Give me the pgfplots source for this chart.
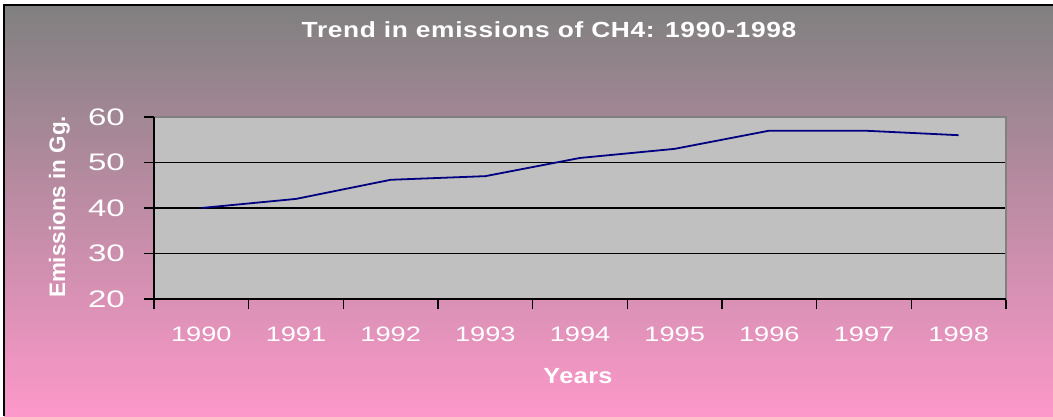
\documentclass[border=0pt]{standalone}
\usepackage{fontspec}
\setmainfont{Liberation Sans}
\usepackage{pgfplots}
\pgfplotsset{compat=1.18}
\definecolor{topgray}{RGB}{128,128,128}
\definecolor{botpink}{RGB}{253,152,202}
\definecolor{plotgray}{RGB}{192,192,192}
\definecolor{navyline}{RGB}{0,0,128}
\pgfplotstableread{
x year value
0 1990 40
1 1991 42
2 1992 46.2
3 1993 47
4 1994 51
5 1995 53
6 1996 57
7 1997 57
8 1998 56
}\emissions
\begin{document}
\begin{tikzpicture}[x=1bp,y=1bp]
\path[use as bounding box] (0,0) rectangle (1053,416);
\fill[white] (0,0) rectangle (1053,416);
\shade[top color=topgray, bottom color=botpink] (4,0) rectangle (1053,411);
\draw[black, line width=2bp] (4,0) -- (4,411) -- (1053,411);
\begin{axis}[
  at={(154bp,117bp)}, anchor=south west,
  scale only axis, width=852bp, height=182bp,
  xmin=-0.5, xmax=8.5, ymin=20, ymax=60,
  xtick={-0.5,0.5,1.5,2.5,3.5,4.5,5.5,6.5,7.5,8.5},
  x tick label as interval,
  xticklabels={1990,1991,1992,1993,1994,1995,1996,1997,1998},
  ytick={20,30,40,50,60},
  ymajorgrids,
  grid style={black, line width=1.3bp},
  axis background/.style={fill=plotgray},
  axis line style={draw=topgray, line width=1bp},
  tick align=outside,
  xtick pos=bottom, ytick pos=left,
  major tick length=10bp,
  tick style={black, line width=1.5bp},
  /pgf/number format/assume math mode=true,
  yticklabel style={font=\fontsize{24}{24}\selectfont\addfontfeatures{FakeStretch=1.38}, color=white, anchor=east, inner sep=0pt, xshift=-19bp},
  xticklabel style={font=\fontsize{21}{21}\selectfont\addfontfeatures{FakeStretch=1.3}, color=white, anchor=north, inner sep=0pt, yshift=-18bp},
  clip=false,
]
\addplot[navyline, line width=1.8bp] table[x=x, y=value] {\emissions};
\draw[topgray, line width=2bp] (rel axis cs:0,1) -- (rel axis cs:1,1) -- (rel axis cs:1,0);
\draw[black, line width=1.5bp] (rel axis cs:0,1) -- (rel axis cs:0,0) -- (rel axis cs:1,0);
\end{axis}
\node[anchor=base, text=white, font=\bfseries\fontsize{22}{22}\selectfont\addfontfeatures{FakeStretch=1.2,LetterSpace=3}, inner sep=0pt] at (549,379) {Trend in emissions of CH4: 1990-1998};
\node[anchor=base, text=white, font=\bfseries\fontsize{22}{22}\selectfont\addfontfeatures{FakeStretch=1.15,LetterSpace=2}, inner sep=0pt] at (578,33) {Years};
\node[anchor=base, rotate=90, text=white, font=\bfseries\fontsize{22.5}{22.5}\selectfont, inner sep=0pt] at (65,209) {Emissions in Gg.};
\end{tikzpicture}
\end{document}
